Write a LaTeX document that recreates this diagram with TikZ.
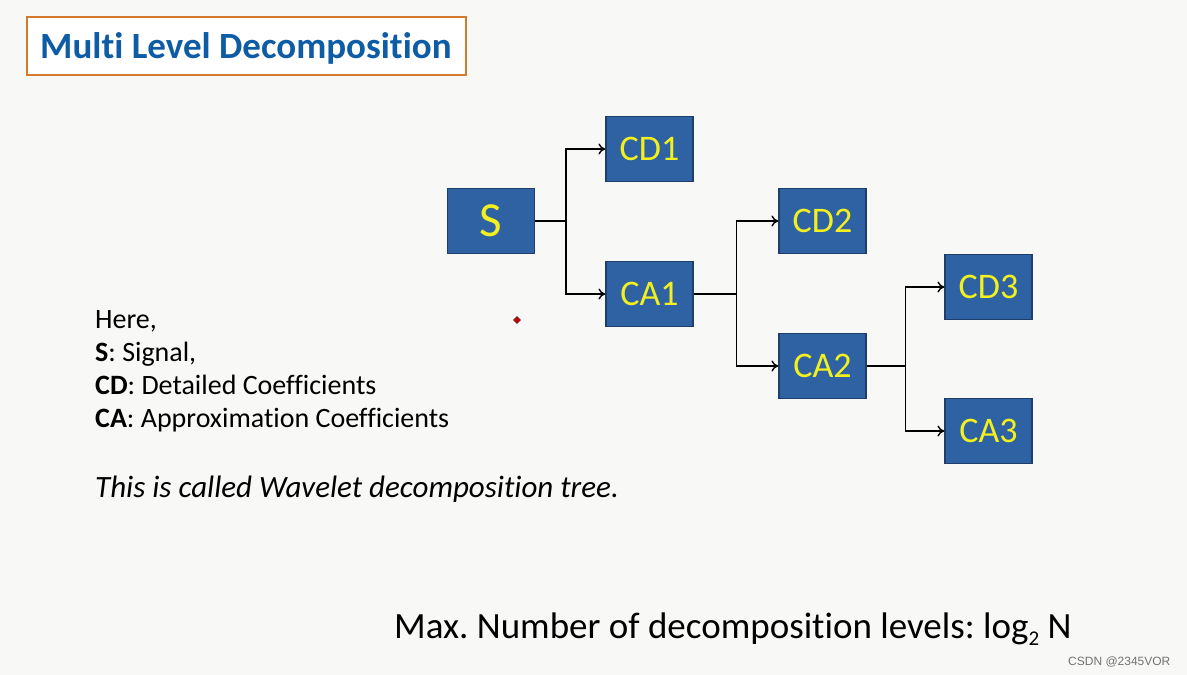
\documentclass[tikz,border=0pt]{standalone}
\usepackage{fontspec}
\setmainfont{Carlito}[Ligatures=NoCommon]
\newfontfamily\wmfont{Liberation Sans}
\usetikzlibrary{arrows.meta}
\definecolor{bgc}{HTML}{F8F8F6}
\definecolor{boxfill}{HTML}{2F62A3}
\definecolor{boxline}{HTML}{1E3F6E}
\definecolor{boxtext}{HTML}{F2F01E}
\definecolor{titleblue}{HTML}{0F5CA6}
\definecolor{titleframe}{HTML}{D37A2E}
\tikzset{
  coef/.style={draw=boxline, line width=1.2pt, fill=boxfill, minimum width=87pt, minimum height=65pt,
    inner sep=0pt, text=boxtext, font=\fontsize{36}{42}\selectfont},
  link/.style={line width=1.4pt, draw=black},
  arr/.style={link, -{To[length=7pt,width=11pt]}},
  body/.style={anchor=base west, inner sep=0pt, font=\fontsize{28}{32}\selectfont}
}
\begin{document}
\frenchspacing
\begin{tikzpicture}[x=1pt,y=-1pt]
\fill[bgc] (0,0) rectangle (1187,675);
\useasboundingbox (0,0) rectangle (1187,675);
% title
\node[draw=titleframe, line width=2.2pt, fill=white, minimum width=439pt, minimum height=58pt, inner sep=0pt] (titlebox) at (246.5,46) {};
\node[anchor=base west, inner sep=0pt, text=titleblue, font=\bfseries\fontsize{37}{40}\selectfont] (title) at (40,58) {Multi Level Decomposition};
% boxes
\node[coef, font=\fontsize{49}{52}\selectfont] (S) at (491,221) {S};
\node[coef] (CD1) at (649.5,149) {CD1};
\node[coef] (CA1) at (649.5,294) {CA1};
\node[coef] (CD2) at (822.5,221) {CD2};
\node[coef] (CA2) at (822.5,366) {CA2};
\node[coef] (CD3) at (988.5,287) {CD3};
\node[coef] (CA3) at (988.5,431) {CA3};
% connectors
\draw[link] (S.east) -- ++(31,0) coordinate (j1);
\draw[arr] (j1) |- (CD1.west);
\draw[arr] (j1) |- (CA1.west);
\draw[link] (CA1.east) -- ++(43,0) coordinate (j2);
\draw[arr] (j2) |- (CD2.west);
\draw[arr] (j2) |- (CA2.west);
\draw[link] (CA2.east) -- ++(39,0) coordinate (j3);
\draw[arr] (j3) |- (CD3.west);
\draw[arr] (j3) |- (CA3.west);
% legend
\node[body] (l1) at (95,328) {Here,};
\node[body] (l2) at (95,361) {\textbf{S}: Signal,};
\node[body] (l3) at (95,394) {\textbf{CD}: Detailed Coefficients};
\node[body] (l4) at (95,427) {\textbf{CA}: Approximation Coefficients};
\node[body, font=\itshape\fontsize{31}{34}\selectfont] (l5) at (95,497) {This is called Wavelet decomposition tree.};
\node[body, font=\fontsize{37}{40}\selectfont] (maxlev) at (394,638) {Max. Number of decomposition levels: log\raisebox{-7pt}{\fontsize{21}{22}\selectfont 2} N};
% marker
\node[fill=red!80!black, draw=black!70, line width=0.4pt, rectangle, rotate=45, inner sep=0pt, minimum size=5pt] (mark) at (517,320) {};
% watermark
\node[anchor=base west, inner sep=0pt, text=black!55, font=\wmfont\fontsize{12}{14}\selectfont] (wm) at (1068,665) {CSDN @2345VOR};
\end{tikzpicture}
\end{document}
